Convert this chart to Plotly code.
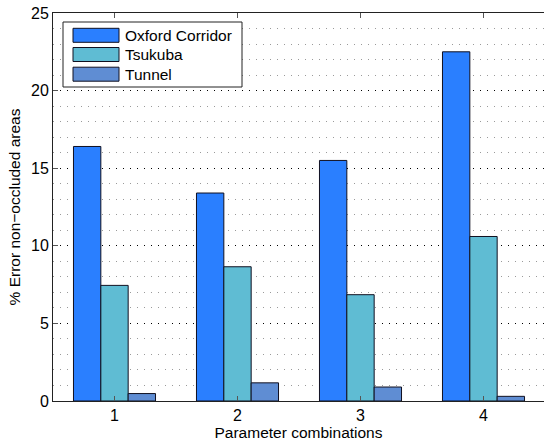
import plotly.graph_objects as go

categories = [1, 2, 3, 4]
series_names = ["Oxford Corridor", "Tsukuba", "Tunnel"]
oxford = [16.4, 13.4, 15.5, 22.5]
tsukuba = [7.45, 8.65, 6.85, 10.6]
tunnel = [0.48, 1.17, 0.9, 0.3]
series_values = [oxford, tsukuba, tunnel]
colors = ["#2a7fff", "#5fbcd3", "#5f8dd3"]
y_ticks = [0, 5, 10, 15, 20, 25]
x_tick_labels = ["1", "2", "3", "4"]

W, H = 544, 444
L, R, T, B = 53, 0, 13, 43
pw, ph = W - L - R, H - T - B

FONT = "Liberation Sans, Arial, Helvetica, sans-serif"
FS = 15.5

fig = go.Figure()
for name, vals, col in zip(series_names, series_values, colors):
    fig.add_trace(go.Bar(
        x=categories, y=vals, name=name,
        marker=dict(color=col, line=dict(color="#101020", width=1)),
        showlegend=False,
    ))

# manual legend (MATLAB-style wide swatches)
def px_x(px):
    return (px - L) / pw

def px_y(py):
    return 1 - (py - T) / ph

shapes = [dict(type="rect", xref="paper", yref="paper",
               x0=px_x(63), x1=px_x(242), y0=px_y(87), y1=px_y(22),
               line=dict(color="#222", width=1), fillcolor="white", layer="above")]
annotations = []
row_centers = [35.3, 54.5, 74.2]
for name, col, cy in zip(series_names, colors, row_centers):
    shapes.append(dict(type="rect", xref="paper", yref="paper",
                       x0=px_x(73), x1=px_x(119), y0=px_y(cy + 7), y1=px_y(cy - 7),
                       line=dict(color="#101020", width=1), fillcolor=col, layer="above"))
    annotations.append(dict(xref="paper", yref="paper", x=px_x(123), y=px_y(cy),
                            text=name, showarrow=False, xanchor="left", yanchor="middle",
                            font=dict(family=FONT, size=FS, color="black")))

fig.update_layout(
    width=W, height=H,
    margin=dict(l=L, r=R, t=T, b=B, autoexpand=False),
    paper_bgcolor="white", plot_bgcolor="white",
    barmode="group", bargap=0.333, bargroupgap=0,
    font=dict(family=FONT, size=FS, color="black"),
    shapes=shapes, annotations=annotations,
    xaxis=dict(
        automargin=False,
        range=[0.5, 0.5 + pw / 123.0],
        tickmode="array", tickvals=categories, ticktext=x_tick_labels,
        ticks="inside", ticklen=5, tickcolor="#555", tickwidth=1,
        showline=True, linecolor="#222", linewidth=1, mirror="ticks",
        showgrid=False, zeroline=False,
        title=dict(text="Parameter combinations", standoff=2,
                   font=dict(family=FONT, size=FS)),
        tickfont=dict(family=FONT, size=16),
    ),
    yaxis=dict(
        automargin=False,
        range=[0, 25],
        tickmode="array", tickvals=y_ticks,
        ticks="inside", ticklen=5, tickcolor="#555", tickwidth=1,
        showline=True, linecolor="#222", linewidth=1, mirror=False,
        showgrid=True, gridcolor="#000", gridwidth=1, griddash="1px,6px",
        minor=dict(dtick=1, showgrid=True, gridcolor="#9a9a9a", gridwidth=1,
                   griddash="1px,6px", ticks=""),
        zeroline=False,
        title=dict(text="% Error non−occluded areas", standoff=6,
                   font=dict(family=FONT, size=FS)),
        tickfont=dict(family=FONT, size=16),
    ),
)

fig.write_html("out.html", config={"displayModeBar": False},
               post_script="document.body.style.margin='0px';document.body.style.overflow='hidden';")
